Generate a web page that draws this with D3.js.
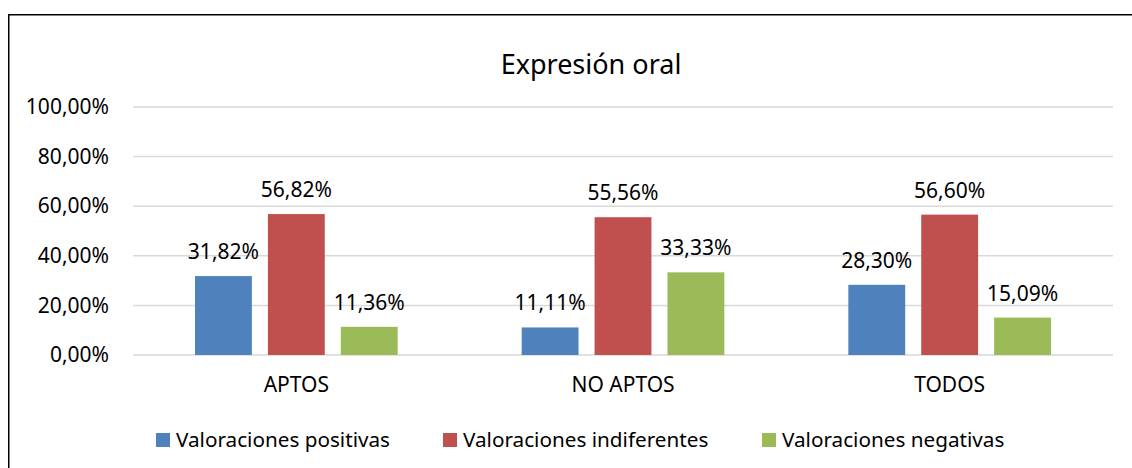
<!DOCTYPE html>
<html>
<head>
<meta charset="utf-8">
<script src="https://cdn.jsdelivr.net/npm/d3@7"></script>
<style>
  body { margin: 0; background: #fff; }
  text { font-family: "Noto Sans", sans-serif; fill: #000; }
</style>
</head>
<body>
<svg id="chart" width="1132" height="468"></svg>
<script>
// data
const categories = ['APTOS', 'NO APTOS', 'TODOS'];
const seriesNames = ['Valoraciones positivas', 'Valoraciones indiferentes', 'Valoraciones negativas'];
const positivas = [0.3182, 0.1111, 0.2830];
const indiferentes = [0.5682, 0.5556, 0.5660];
const negativas = [0.1136, 0.3333, 0.1509];
const yTicks = [0, 0.2, 0.4, 0.6, 0.8, 1.0];
const colors = ['#4F81BD', '#C0504D', '#9BBB59'];

const seriesValues = [positivas, indiferentes, negativas];

const svg = d3.select('#chart');
const width = 1132, height = 468;

var margin = { top: 107, right: 19, bottom: 113, left: 133 };

// chart frame (cropped at right and bottom)
svg.append('rect')
    .attr('x', 8.75)
    .attr('y', 14.75)
    .attr('width', 1300)
    .attr('height', 700)
    .attr('fill', 'none')
    .attr('stroke', '#000')
    .attr('stroke-width', 1.5);

var x = d3.scaleBand()
    .domain(categories)
    .range([margin.left, width - margin.right]);

var x1 = d3.scaleBand()
    .domain(seriesNames)
    .range([62, x.bandwidth() - 62])
    .paddingInner(0.22);

var y = d3.scaleLinear()
    .domain([0, 1])
    .range([height - margin.bottom, margin.top]);

const pct = d => d3.format('.2f')(d * 100).replace('.', ',') + '%';

// title
svg.append('text')
    .attr('x', 591)
    .attr('y', 74)
    .attr('text-anchor', 'middle')
    .attr('font-size', 27)
    .text('Expresión oral');

// gridlines
svg.append('g')
    .selectAll('line')
    .data(yTicks)
    .enter()
    .append('line')
        .attr('x1', margin.left)
        .attr('x2', width - margin.right)
        .attr('y1', d => y(d))
        .attr('y2', d => y(d))
        .attr('stroke', '#D9D9D9')
        .attr('stroke-width', 1.5);

// y axis labels
const yAxis = d3.axisLeft(y).tickValues(yTicks).tickFormat(pct).tickSize(0).tickPadding(24);
const gy = svg.append('g')
    .attr('transform', `translate(${margin.left},0)`)
    .call(yAxis);
gy.select('.domain').remove();
gy.selectAll('text')
    .attr('font-size', 21)
    .attr('font-family', '"Noto Sans", sans-serif')
    .attr('fill', '#000');

// x axis labels
const xAxis = d3.axisBottom(x).tickSize(0).tickPadding(22);
const gx = svg.append('g')
    .attr('transform', `translate(0,${y(0)})`)
    .call(xAxis);
gx.select('.domain').remove();
gx.selectAll('text')
    .attr('font-size', 21)
    .attr('font-family', '"Noto Sans", sans-serif')
    .attr('fill', '#000');

// bars + labels
const rows = [];
categories.forEach((c, i) => {
    seriesNames.forEach((s, j) => {
        rows.push({ cat: c, series: s, value: seriesValues[j][i], color: colors[j] });
    });
});

svg.append('g')
    .selectAll('rect')
    .data(rows)
    .enter()
    .append('rect')
        .attr('x', d => x(d.cat) + x1(d.series))
        .attr('y', d => y(d.value))
        .attr('width', x1.bandwidth())
        .attr('height', d => y(0) - y(d.value))
        .attr('fill', d => d.color);

svg.append('g')
    .selectAll('text')
    .data(rows)
    .enter()
    .append('text')
        .attr('x', d => x(d.cat) + x1(d.series) + x1.bandwidth() / 2)
        .attr('y', d => y(d.value) - 17)
        .attr('text-anchor', 'middle')
        .attr('font-size', 21)
        .text(d => pct(d.value));

// legend
const legendX = [156, 443, 762];
const legend = svg.append('g')
    .selectAll('g')
    .data(seriesNames)
    .enter()
    .append('g')
        .attr('transform', (d, i) => `translate(${legendX[i]},433)`);

legend.append('rect')
    .attr('width', 14)
    .attr('height', 14)
    .attr('fill', (d, i) => colors[i]);

legend.append('text')
    .attr('x', 20)
    .attr('y', 14)
    .attr('font-size', 20.7)
    .text(d => d);
</script>
</body>
</html>
